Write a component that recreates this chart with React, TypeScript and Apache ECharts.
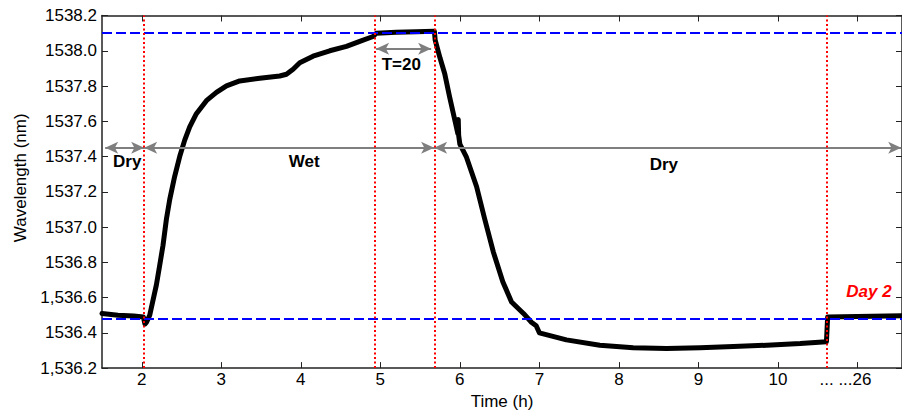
import React, { useEffect, useRef } from "react";
import * as echarts from "echarts";

// Measured wavelength trace: [time (h), wavelength (nm)]
const curve: [number, number][] = [
  [1.5, 1536.51], [1.7, 1536.5], [1.9, 1536.495], [2.02, 1536.49], [2.04, 1536.45],
  [2.06, 1536.46], [2.1, 1536.5], [2.184, 1536.672], [2.226, 1536.784], [2.267, 1536.896],
  [2.31, 1537.045], [2.352, 1537.157], [2.414, 1537.288], [2.477, 1537.4], [2.54, 1537.493],
  [2.603, 1537.568], [2.687, 1537.643], [2.813, 1537.717], [2.939, 1537.764], [3.065, 1537.801],
  [3.232, 1537.829], [3.484, 1537.844], [3.735, 1537.857], [3.82, 1537.867], [3.903, 1537.895],
  [3.987, 1537.932], [4.154, 1537.969], [4.364, 1538.0], [4.574, 1538.025], [4.75, 1538.055],
  [4.909, 1538.081], [4.95, 1538.1], [5.2, 1538.105], [5.45, 1538.108], [5.68, 1538.11],
  [5.69, 1538.06], [5.75, 1537.96], [5.81, 1537.87], [5.87, 1537.74], [5.94, 1537.6],
  [5.975, 1537.53], [5.98, 1537.61], [5.985, 1537.52], [6.0, 1537.47], [6.08, 1537.4],
  [6.21, 1537.23], [6.31, 1537.05], [6.42, 1536.86], [6.54, 1536.69], [6.65, 1536.575],
  [6.8, 1536.51], [6.9, 1536.46], [6.96, 1536.44], [7.0, 1536.4], [7.34, 1536.36],
  [7.76, 1536.33], [8.18, 1536.316], [8.6, 1536.311], [9.02, 1536.316], [9.44, 1536.322],
  [9.86, 1536.33], [10.28, 1536.339], [10.61, 1536.35], [10.625, 1536.49], [11.0, 1536.492],
  [11.56, 1536.497],
];

const xTicks = [2, 3, 4, 5, 6, 7, 8, 9, 10, 11];
const xTickLabels = ["2", "3", "4", "5", "6", "7", "8", "9", "10", "... ...26"];
const yTicks = [1536.2, 1536.4, 1536.6, 1536.8, 1537.0, 1537.2, 1537.4, 1537.6, 1537.8, 1538.0, 1538.2];
const yTickLabels = ["1,536.2", "1536.4", "1,536.6", "1536.8", "1537.0", "1537.2", "1537.4", "1537.6", "1537.8", "1538.0", "1538.2"];

const eventTimes = [2.03, 4.93, 5.676, 10.624];
const refLevels = [1538.1, 1536.48];
const arrowLevel = 1537.45;
const phaseArrows: [number, number][] = [[1.54, 2.03], [2.03, 5.676], [5.676, 11.55]];
const tArrow = { from: 4.947, to: 5.639, y: 1538.012 };

const annotations = [
  { text: "Dry", x: 1.817, y: 1537.371, color: "#000000", italic: false },
  { text: "Wet", x: 4.043, y: 1537.371, color: "#000000", italic: false },
  { text: "T=20", x: 5.264, y: 1537.92, color: "#000000", italic: false },
  { text: "Dry", x: 8.565, y: 1537.357, color: "#000000", italic: false },
  { text: "Day 2", x: 11.144, y: 1536.634, color: "#ff0000", italic: true },
];

const FONT = "'Liberation Sans', Arial, Helvetica, sans-serif";
const XMIN = 1.5;
const XMAX = 11.56;
const YMIN = 1536.2;
const YMAX = 1538.2;

function nearestLabel(v: number, ticks: number[], labels: string[]) {
  let best = 0;
  for (let i = 1; i < ticks.length; i++) {
    if (Math.abs(ticks[i] - v) < Math.abs(ticks[best] - v)) best = i;
  }
  return labels[best];
}

export default function App() {
  const ref = useRef<HTMLDivElement>(null);
  useEffect(() => {
    if (!ref.current) return;
    const chart = echarts.init(ref.current, null, { renderer: "svg" });
    const axisLine = { show: true, lineStyle: { color: "#222", width: 1.5 } };
    const option: any = {
      animation: false,
      backgroundColor: "#fff",
      grid: { left: 102, right: 0, top: 15.5, bottom: 42.5, containLabel: false },
      xAxis: [
        {
          type: "value",
          position: "bottom",
          min: XMIN,
          max: XMAX,
          name: "Time (h)",
          nameLocation: "middle",
          nameGap: 24,
          nameTextStyle: { fontFamily: FONT, fontSize: 17, color: "#000", verticalAlign: "top" },
          axisLine,
          splitLine: { show: false },
          axisTick: { show: true, inside: true, length: 6, customValues: xTicks, lineStyle: { color: "#222" } },
          axisLabel: {
            show: true,
            margin: 3,
            customValues: xTicks,
            fontFamily: FONT,
            fontSize: 17,
            color: "#000",
            formatter: (v: number) => {
              const s = nearestLabel(v, xTicks, xTickLabels);
              return s.indexOf("26") >= 0 ? "{s|" + s + "}" : s;
            },
            rich: { s: { fontFamily: FONT, fontSize: 17, color: "#000", padding: [0, 24, 0, 0] } },
          },
        },
        {
          type: "value",
          position: "top",
          min: XMIN,
          max: XMAX,
          axisLine,
          splitLine: { show: false },
          axisTick: { show: true, inside: true, length: 6, customValues: xTicks, lineStyle: { color: "#222" } },
          axisLabel: { show: false },
        },
      ],
      yAxis: [
        {
          type: "value",
          position: "left",
          min: YMIN,
          max: YMAX,
          name: "Wavelength (nm)",
          nameLocation: "middle",
          nameGap: 72,
          nameTextStyle: { fontFamily: FONT, fontSize: 17, color: "#000", padding: [0, 0, 0, 28] },
          axisLine,
          splitLine: { show: false },
          axisTick: { show: true, inside: true, length: 6, customValues: yTicks, lineStyle: { color: "#222" } },
          axisLabel: {
            show: true,
            margin: 5,
            customValues: yTicks,
            fontFamily: FONT,
            fontSize: 17,
            color: "#000",
            formatter: (v: number) => nearestLabel(v, yTicks, yTickLabels),
          },
        },
        {
          type: "value",
          position: "right",
          min: YMIN,
          max: YMAX,
          axisLine,
          splitLine: { show: false },
          axisTick: { show: true, inside: true, length: 6, customValues: yTicks, lineStyle: { color: "#222" } },
          axisLabel: { show: false },
        },
      ],
      series: [
        {
          // gray phase arrows (under the trace)
          type: "line",
          data: [],
          z: 1,
          silent: true,
          markLine: {
            silent: true,
            symbol: ["arrow", "arrow"],
            symbolSize: [9, 13],
            label: { show: false },
            lineStyle: { color: "#7f7f7f", width: 1.8, type: "solid" },
            data: [
              ...phaseArrows.map(([a, b]) => [{ coord: [a, arrowLevel] }, { coord: [b, arrowLevel] }]),
              [{ coord: [tArrow.from, tArrow.y] }, { coord: [tArrow.to, tArrow.y] }],
            ],
          },
        },
        {
          type: "line",
          data: curve,
          z: 2,
          showSymbol: false,
          symbol: "none",
          smooth: false,
          lineStyle: { color: "#000", width: 5, join: "round", cap: "round" },
        },
        {
          // reference levels and event times (over the trace)
          type: "line",
          data: [],
          z: 5,
          silent: true,
          markLine: {
            silent: true,
            symbol: ["none", "none"],
            label: { show: false },
            data: [
              ...refLevels.map((y) => ({ yAxis: y, lineStyle: { color: "#0000ff", width: 2, type: [10, 4] } })),
              ...eventTimes.map((x) => ({ xAxis: x, lineStyle: { color: "#ff0000", width: 2, type: [2, 2.5] } })),
            ],
          },
        },
        {
          type: "scatter",
          z: 6,
          silent: true,
          symbolSize: 0,
          itemStyle: { color: "#000", opacity: 1 },
          data: annotations.map((a) => ({
            value: [a.x, a.y],
            label: {
              show: true,
              position: "inside",
              formatter: a.text,
              fontFamily: FONT,
              fontSize: 17,
              fontWeight: "bold",
              fontStyle: a.italic ? "italic" : "normal",
              color: a.color,
              textBorderWidth: 0,
              textBorderColor: "transparent",
              opacity: 1,
            },
          })),
        },
      ],
    };
    chart.setOption(option);
    return () => chart.dispose();
  }, []);
  return <div ref={ref} style={{ position: "fixed", left: 0, top: 0, width: 902, height: 415 }} />;
}
